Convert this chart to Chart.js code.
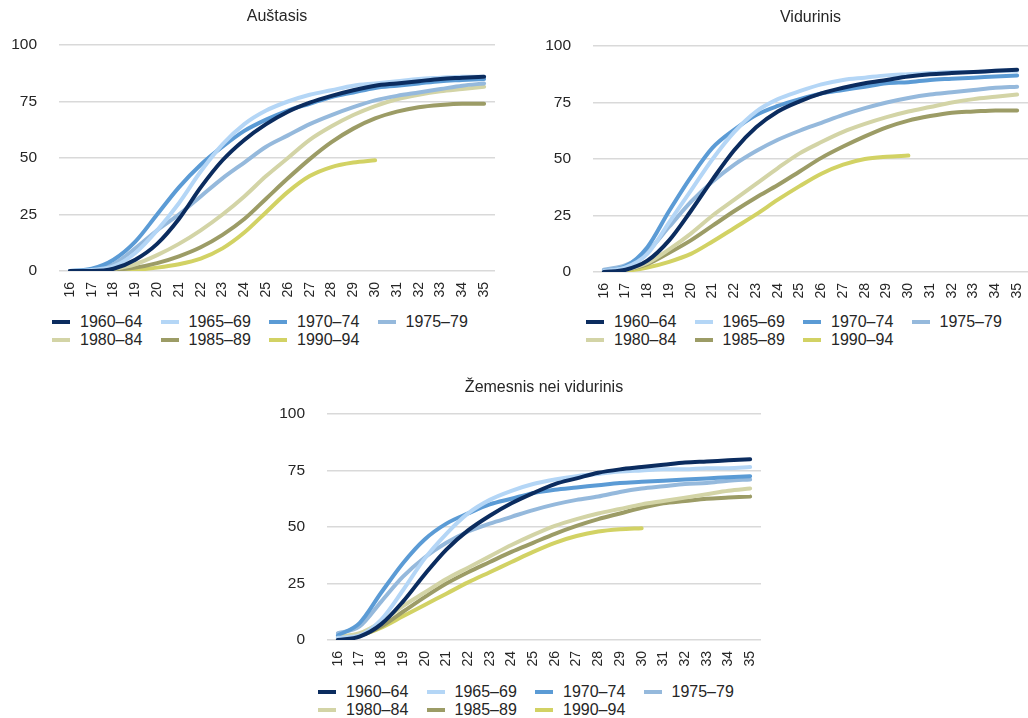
<!DOCTYPE html>
<html>
<head>
<meta charset="utf-8">
<script src="https://cdn.jsdelivr.net/npm/chart.js@4.4.1/dist/chart.umd.min.js"></script>
<style>
  html, body { margin: 0; padding: 0; background: #ffffff; }
  body { width: 1028px; height: 718px; position: relative; overflow: hidden; font-family: "Liberation Sans", Arial, sans-serif; }
  .box { position: absolute; }
  .legend { position: absolute; font-size: 16px; color: #262626; }
  .item { position: absolute; height: 18px; line-height: 18px; white-space: nowrap; }
  .item .ln { position: absolute; left: 0; top: 7px; width: 18px; height: 4px; }
  .item .tx { position: absolute; left: 28px; top: 0; }
</style>
</head>
<body>
<div class="box" id="b1" style="left:0px;top:0px;width:500px;height:305px;"><canvas id="c1"></canvas></div>
<div class="box" id="b2" style="left:534px;top:1px;width:494px;height:305px;"><canvas id="c2"></canvas></div>
<div class="box" id="b3" style="left:268px;top:369px;width:500px;height:305px;"><canvas id="c3"></canvas></div>
<div class="legend" id="l1" style="left:52px;top:313px;"></div>
<div class="legend" id="l2" style="left:586px;top:313px;"></div>
<div class="legend" id="l3" style="left:318px;top:683px;"></div>
<script>
const ages = ['16','17','18','19','20','21','22','23','24','25','26','27','28','29','30','31','32','33','34','35'];
const cohorts = ['1960–64','1965–69','1970–74','1975–79','1980–84','1985–89','1990–94'];
const colors = ['#0b2c5f','#b4d6f6','#5b9bd5','#95b9dc','#d3d4a6','#9c9c66','#d2d264'];

const titles = ['Auštasis', 'Vidurinis', 'Žemesnis nei vidurinis'];

// Auštasis
const high_1960 = [0,0,1,5,12,23,37,49,58,65,70.5,74.5,77.5,80,82,83,84,85,85.5,86];
const high_1965 = [0,0.5,2,8,18,30,44,56,65,71,75,78,80,82,83,84,85,85.5,86,86];
const high_1970 = [0,1,5,13,25,37,47,55,62,67,71,74,77,79,81,82,83,84,84.5,85];
const high_1975 = [0,0.5,3,10,18,25,33,41,48,55,60,65,69,72.5,75.5,77.5,79,80.5,82,83];
const high_1980 = [0,0,1,3,7,12,18,25,33,42,50,58,64,69,73,76,78,79.5,80.5,81.5];
const high_1985 = [0,0,0.5,1.5,3.5,6.5,10.5,16,23,32,41,49.5,57,63,67.5,70.5,72.5,73.5,74,74];
const high_1990 = [0,0,0,0.5,1.5,3,5.5,10,17,26,35,42,46,48,49,null,null,null,null,null];

// Vidurinis
const mid_1960 = [0,1,5,14,27,41,54,64,71,75.5,79,81.5,83.5,85,86.5,87.5,88,88.5,89,89.5];
const mid_1965 = [0.5,2,8,22,36,50,62,71,76.5,80,83,85,86,87,87.5,88,88.5,88.5,89,89];
const mid_1970 = [0.5,2.5,11,27,42,55,63,69.5,73.5,76.5,79,80.5,82,83.5,84,85,85.5,86,86.5,87];
const mid_1975 = [1,3,9,20,31,40,47.5,53.5,58.5,62.5,66,69.5,72.5,75,77,78.5,79.5,80.5,81.5,82];
const mid_1980 = [0,1,4,10,17,25,32,39,46,52.5,57.5,62,65.5,68.5,71,73,75,76.5,77.5,78.5];
const mid_1985 = [0,1,3.5,8.5,14,20.5,27,33,38.5,44.5,50.5,55.5,60,64,67,69,70.5,71,71.5,71.5];
const mid_1990 = [0,0.5,2,4.5,8,13.5,19.5,25.5,32,38,43.5,47.5,50,51,51.5,null,null,null,null,null];

// Žemesnis nei vidurinis
const low_1960 = [0,1.5,7,17,29,40,48.5,55,60.5,65,69,71.5,74,75.5,76.5,77.5,78.5,79,79.5,80];
const low_1965 = [1,2,9,22,36,47,56,62,66,69,71,72.5,73.5,74.5,75,75.5,75.5,76,76,76.5];
const low_1970 = [2,7.5,21,34,44.5,51.5,56,60,62.5,65,66.5,67.5,68.5,69.5,70,70.5,71,71.5,72,72.5];
const low_1975 = [3,6,17,28,36.5,43,48,51.5,54.5,57.5,60,62,63.5,65.5,67,68,69,69.5,70.5,71];
const low_1980 = [1.5,3,8,15,21,27,32,37,42,46.5,50.5,53.5,56,58,60,61.5,63,64.5,66,67];
const low_1985 = [1,2,6,12.5,19,25,30,34.5,39,43,47,50.5,53.5,56,58.5,60.5,61.5,62.5,63,63.5];
const low_1990 = [0.5,2,5.5,10.5,15.5,20.5,25.5,30,34.5,39,43,46,48,49,49.5,null,null,null,null,null];

const yTicks = [0, 25, 50, 75, 100];

const groups = [
  [high_1960, high_1965, high_1970, high_1975, high_1980, high_1985, high_1990],
  [mid_1960, mid_1965, mid_1970, mid_1975, mid_1980, mid_1985, mid_1990],
  [low_1960, low_1965, low_1970, low_1975, low_1980, low_1985, low_1990]
];

const FONT = '"Liberation Sans", Arial, sans-serif';
const TEXT = '#262626';

const centerTitle = {
  id: 'centerTitle',
  afterDraw(chart, args, opts) {
    const ctx = chart.ctx;
    const a = chart.chartArea;
    ctx.save();
    ctx.font = '16px ' + FONT;
    ctx.fillStyle = TEXT;
    ctx.textAlign = 'center';
    ctx.textBaseline = 'middle';
    ctx.fillText(opts.text, (a.left + a.right) / 2, opts.y);
    ctx.restore();
  }
};

function makeChart(id, data, title, padRight, titleY) {
  return new Chart(document.getElementById(id), {
    type: 'line',
    data: {
      labels: ages,
      datasets: cohorts.map((c, i) => ({
        label: c,
        data: data[i],
        borderColor: colors[i],
        backgroundColor: colors[i],
        borderWidth: 4,
        pointRadius: 0,
        pointHoverRadius: 0,
        cubicInterpolationMode: 'monotone',
        borderCapStyle: 'round',
        borderJoinStyle: 'round',
        spanGaps: false,
        fill: false
      }))
    },
    options: {
      responsive: true,
      maintainAspectRatio: false,
      animation: false,
      devicePixelRatio: 1,
      layout: { padding: { top: 45, right: padRight, bottom: 0, left: 0 } },
      plugins: {
        legend: { display: false },
        title: { display: false },
        tooltip: { enabled: false },
        centerTitle: { text: title, y: titleY }
      },
      scales: {
        x: {
          offset: true,
          grid: { display: false, drawTicks: false },
          border: { display: false },
          ticks: {
            minRotation: 90, maxRotation: 90, autoSkip: false,
            padding: 11,
            color: TEXT,
            font: { family: FONT, size: 14 }
          },
          afterFit: (s) => { s.height = 34; s.paddingRight = 0; s.paddingLeft = 0; }
        },
        y: {
          min: 0, max: 100,
          afterBuildTicks: (s) => { s.ticks = yTicks.map(v => ({ value: v })); },
          grid: { color: '#d9d9d9', lineWidth: 1.5, drawTicks: false },
          border: { display: false },
          ticks: {
            padding: 22,
            color: TEXT,
            font: { family: FONT, size: 15.5 }
          },
          afterFit: (s) => { s.width = 59; }
        }
      }
    },
    plugins: [centerTitle]
  });
}

makeChart('c1', groups[0], titles[0], 5, 17);
makeChart('c2', groups[1], titles[1], 0, 17);
makeChart('c3', groups[2], titles[2], 7, 19);

function buildLegend(id) {
  const el = document.getElementById(id);
  const xs = [0, 108.5, 217, 325.5];
  cohorts.forEach((c, i) => {
    const it = document.createElement('div');
    it.className = 'item';
    it.style.left = xs[i % 4] + 'px';
    it.style.top = (i < 4 ? 0 : 18) + 'px';
    const ln = document.createElement('span');
    ln.className = 'ln';
    ln.style.background = colors[i];
    const tx = document.createElement('span');
    tx.className = 'tx';
    tx.textContent = c;
    it.appendChild(ln);
    it.appendChild(tx);
    el.appendChild(it);
  });
}
buildLegend('l1');
buildLegend('l2');
buildLegend('l3');
</script>
</body>
</html>
